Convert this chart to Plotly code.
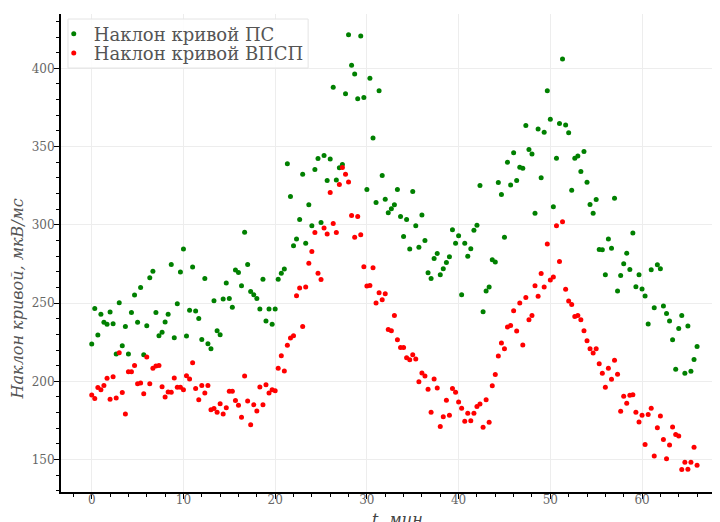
import plotly.graph_objects as go

# time, min (sampling every 20 s)
t_min = [
    0, 0.33, 0.67, 1, 1.33, 1.67, 2, 2.33, 2.67, 3, 3.33, 3.67, 4, 4.33, 4.67,
    5, 5.33, 5.67, 6, 6.33, 6.67, 7, 7.33, 7.67, 8, 8.33, 8.67, 9, 9.33, 9.67,
    10, 10.33, 10.67, 11, 11.33, 11.67, 12, 12.33, 12.67, 13, 13.33, 13.67, 14, 14.33, 14.67,
    15, 15.33, 15.67, 16, 16.33, 16.67, 17, 17.33, 17.67, 18, 18.33, 18.67, 19, 19.33, 19.67,
    20, 20.33, 20.67, 21, 21.33, 21.67, 22, 22.33, 22.67, 23, 23.33, 23.67, 24, 24.33, 24.67,
    25, 25.33, 25.67, 26, 26.33, 26.67, 27, 27.33, 27.67, 28, 28.33, 28.67, 29, 29.33, 29.67,
    30, 30.33, 30.67, 31, 31.33, 31.67, 32, 32.33, 32.67, 33, 33.33, 33.67, 34, 34.33, 34.67,
    35, 35.33, 35.67, 36, 36.33, 36.67, 37, 37.33, 37.67, 38, 38.33, 38.67, 39, 39.33, 39.67,
    40, 40.33, 40.67, 41, 41.33, 41.67, 42, 42.33, 42.67, 43, 43.33, 43.67, 44, 44.33, 44.67,
    45, 45.33, 45.67, 46, 46.33, 46.67, 47, 47.33, 47.67, 48, 48.33, 48.67, 49, 49.33, 49.67,
    50, 50.33, 50.67, 51, 51.33, 51.67, 52, 52.33, 52.67, 53, 53.33, 53.67, 54, 54.33, 54.67,
    55, 55.33, 55.67, 56, 56.33, 56.67, 57, 57.33, 57.67, 58, 58.33, 58.67, 59, 59.33, 59.67,
    60, 60.33, 60.67, 61, 61.33, 61.67, 62, 62.33, 62.67, 63, 63.33, 63.67, 64, 64.33, 64.67,
    65, 65.33, 65.67, 66,
]

slope_ps = [
    223.8, 246.6, 229.6, 242.8, 237.7, 236.4, 244.3, 236.8, 217.4, 250.2, 222.8, 235.1, 217.4, 244.0, 255.1,
    237.7, 260.0, 217.0, 235.5, 266.2, 270.4, 244.0, 229.1, 231.3, 237.9, 242.8, 274.7, 227.9, 249.6, 269.8,
    284.5, 228.9, 245.5, 273.0, 244.9, 240.2, 226.8, 265.7, 224.0, 220.9, 251.5, 232.3, 229.8, 252.6, 262.8,
    253.0, 247.4, 271.1, 269.6, 261.1, 295.3, 274.7, 257.4, 255.3, 253.0, 246.2, 265.3, 238.5, 246.2, 236.4,
    246.2, 265.3, 269.1, 271.7, 339.1, 318.1, 286.6, 290.9, 303.4, 332.3, 288.3, 312.8, 299.4, 335.3, 342.3,
    301.5, 344.3, 328.3, 342.1, 387.9, 328.7, 336.4, 338.5, 383.8, 421.5, 401.9, 396.4, 380.6, 420.6, 381.3,
    322.6, 393.6, 355.5, 314.3, 385.7, 331.5, 316.4, 307.7, 310.2, 312.8, 322.6, 305.3, 292.6, 303.4, 284.5,
    321.3, 299.4, 285.7, 306.2, 290.0, 269.4, 265.7, 278.5, 281.7, 268.1, 271.9, 276.0, 279.6, 296.8, 288.3,
    293.0, 255.3, 288.3, 280.0, 284.7, 296.6, 299.8, 325.1, 244.5, 257.7, 260.2, 277.7, 276.2, 327.0, 319.4,
    292.1, 340.0, 325.5, 346.0, 328.3, 336.8, 336.2, 363.4, 348.1, 345.3, 307.4, 361.3, 330.0, 359.1, 385.7,
    367.4, 311.5, 342.6, 364.7, 406.0, 363.8, 358.9, 322.1, 342.6, 344.0, 334.0, 346.8, 327.2, 313.0, 307.4,
    316.2, 284.3, 284.0, 268.1, 290.9, 285.1, 317.0, 257.7, 267.7, 275.1, 281.9, 271.5, 294.7, 260.4, 268.1,
    259.0, 254.6, 236.6, 271.3, 247.0, 274.5, 271.9, 248.1, 243.4, 238.5, 226.6, 207.7, 233.8, 242.1, 205.1,
    235.3, 206.4, 214.0, 222.3,
]

slope_vpsp = [
    191.3, 189.1, 196.0, 194.7, 197.4, 201.9, 188.5, 203.0, 189.4, 218.3, 192.8, 179.1, 206.2, 206.2, 210.2,
    198.5, 198.9, 192.1, 215.5, 198.5, 208.3, 209.8, 210.2, 196.5, 190.0, 193.2, 193.0, 202.1, 196.2, 196.2,
    194.7, 203.6, 201.5, 211.9, 195.5, 188.3, 197.4, 192.6, 197.4, 181.9, 182.6, 180.2, 185.7, 179.1, 183.2,
    193.6, 193.6, 187.7, 184.7, 177.1, 203.4, 187.5, 172.3, 185.1, 181.1, 196.4, 185.1, 197.9, 192.6, 194.7,
    194.0, 208.3, 216.4, 206.6, 223.0, 227.7, 229.1, 254.7, 259.6, 235.1, 260.2, 275.5, 283.0, 295.1, 269.1,
    265.0, 297.9, 294.2, 320.6, 300.9, 295.1, 325.7, 336.6, 332.3, 327.4, 306.0, 292.1, 305.3, 293.6, 273.2,
    260.9, 261.3, 272.6, 250.0, 256.6, 252.1, 256.0, 233.2, 232.3, 242.1, 226.6, 221.7, 221.7, 215.1, 213.8,
    217.0, 214.3, 199.8, 205.3, 203.4, 194.9, 180.2, 201.5, 195.7, 171.1, 177.4, 187.9, 178.3, 195.5, 193.0,
    186.8, 182.8, 174.5, 179.6, 174.9, 179.6, 184.0, 185.5, 170.6, 188.2, 173.8, 197.2, 204.3, 216.2, 224.5,
    220.9, 234.7, 235.7, 245.1, 232.1, 250.0, 223.2, 253.6, 239.4, 242.1, 261.1, 254.3, 268.9, 260.2, 287.7,
    264.7, 266.6, 299.4, 276.5, 302.0, 258.8, 251.4, 249.1, 241.5, 242.1, 239.4, 232.3, 226.0, 220.9, 218.1,
    220.9, 211.3, 205.1, 196.2, 208.3, 201.3, 213.4, 204.5, 180.9, 190.4, 186.0, 191.1, 191.5, 180.2, 174.1,
    178.3, 159.6, 178.8, 182.8, 152.3, 170.4, 177.9, 162.8, 150.6, 159.4, 170.9, 166.0, 165.1, 143.6, 148.3,
    143.8, 148.3, 157.9, 146.4,
]

name_ps = "Наклон кривой ПС"
name_vpsp = "Наклон кривой ВПСП"
x_title = "<i>t, мин</i>"
y_title = "<i>Наклон кривой, мкВ/мс</i>"

SERIF = "DejaVu Serif"

fig = go.Figure()
fig.add_trace(go.Scatter(x=t_min, y=slope_ps, mode="markers", name=name_ps,
                         marker=dict(color="#008000", size=5), legend="legend"))
fig.add_trace(go.Scatter(x=t_min, y=slope_vpsp, mode="markers", name=name_vpsp,
                         marker=dict(color="#ff0000", size=5), legend="legend2"))

axis_common = dict(
    showline=True, linewidth=2, linecolor="black", mirror=False,
    ticks="outside", ticklen=5, tickwidth=1, tickcolor="black",
    showgrid=True, gridcolor="#ededed", gridwidth=1, zeroline=False,
    automargin=False,
    tickfont=dict(family=SERIF, size=12, color="#666666"),
)

legend_common = dict(
    xanchor="left", yanchor="middle", bgcolor="rgba(0,0,0,0)", borderwidth=0,
    font=dict(family=SERIF, size=18, color="#555555"), itemwidth=30,
)

fig.update_layout(
    # the page body adds an 8 px margin, so the figure is drawn 8 px smaller
    width=712, height=514,
    margin=dict(l=53, r=0, t=6, b=30),
    paper_bgcolor="white", plot_bgcolor="white",
    showlegend=True,
    legend=dict(x=-0.011, y=0.958, **legend_common),
    legend2=dict(x=-0.011, y=0.918, **legend_common),
    xaxis=dict(range=[-3.35, 68.5], dtick=10, tick0=0, ticklabelstandoff=-9,
               minor=dict(dtick=2, ticks="outside", ticklen=3, tickcolor="black", showgrid=False),
               **axis_common),
    yaxis=dict(range=[129.3, 434.7], dtick=50, tick0=0, ticklabelstandoff=-3,
               minor=dict(dtick=10, ticks="outside", ticklen=3, tickcolor="black", showgrid=False),
               **axis_common),
    shapes=[dict(type="rect", xref="paper", yref="paper",
                 x0=0.0106, x1=0.375, y0=0.887, y1=0.9895,
                 line=dict(color="#e4e4e4", width=1),
                 fillcolor="rgba(255,255,255,0.85)", layer="above")],
    annotations=[
        dict(text=y_title, xref="paper", yref="paper", x=-0.0668, y=0.405,
             xanchor="center", yanchor="middle", textangle=-90, showarrow=False,
             font=dict(family=SERIF, size=16, color="#555555")),
        dict(text=x_title, xref="paper", yref="paper", x=0.51, y=-0.0565,
             xanchor="center", yanchor="middle", showarrow=False,
             font=dict(family=SERIF, size=16, color="#444444")),
    ],
)

fig.write_html("out.html")
